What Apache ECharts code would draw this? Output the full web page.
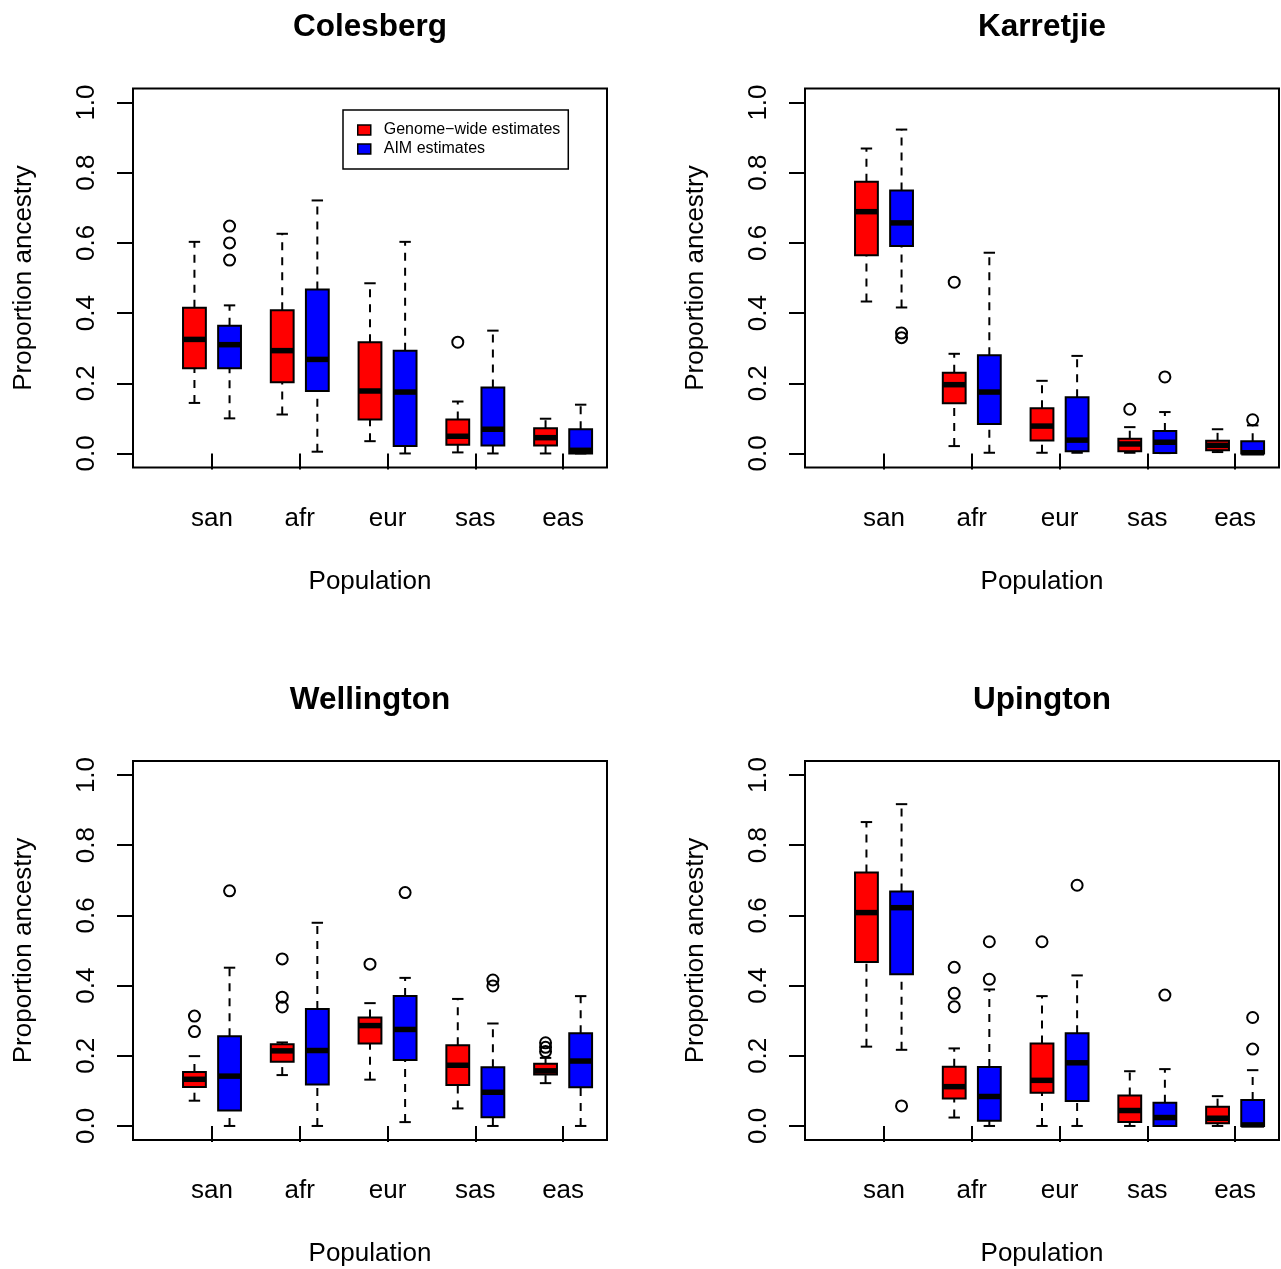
<!DOCTYPE html>
<html>
<head>
<meta charset="utf-8">
<script src="https://cdn.jsdelivr.net/npm/echarts@6/dist/echarts.min.js"></script>
<style>
  html, body { margin: 0; padding: 0; background: #fff; }
  #chart { width: 1281px; height: 1269px; }
</style>
</head>
<body>
<div id="chart"></div>
<script>
// Ancestry proportions per population, four sampling sites.
const categories = ['san', 'afr', 'eur', 'sas', 'eas'];
const yTicks = [0, 0.2, 0.4, 0.6, 0.8, 1.0];
const sites = ['Colesberg', 'Karretjie', 'Wellington', 'Upington'];

// Box statistics per population: [lower whisker, Q1, median, Q3, upper whisker]
const colesbergGenome = [
  [0.144, 0.243, 0.325, 0.415, 0.603],
  [0.111, 0.203, 0.293, 0.408, 0.626],
  [0.035, 0.097, 0.178, 0.317, 0.485],
  [0.003, 0.025, 0.049, 0.097, 0.148],
  [0.000, 0.023, 0.045, 0.072, 0.099]
];
const colesbergAim = [
  [0.100, 0.243, 0.310, 0.364, 0.422],
  [0.005, 0.178, 0.268, 0.467, 0.721],
  [0.000, 0.021, 0.175, 0.293, 0.603],
  [0.000, 0.023, 0.069, 0.188, 0.350],
  [0.000, 0.000, 0.009, 0.069, 0.139]
];
const karretjieGenome = [
  [0.433, 0.565, 0.689, 0.774, 0.869],
  [0.021, 0.143, 0.196, 0.230, 0.284],
  [0.002, 0.037, 0.078, 0.129, 0.207],
  [0.002, 0.006, 0.027, 0.042, 0.075],
  [0.004, 0.009, 0.023, 0.036, 0.069]
];
const karretjieAim = [
  [0.416, 0.591, 0.657, 0.749, 0.923],
  [0.002, 0.084, 0.175, 0.280, 0.572],
  [0.002, 0.006, 0.038, 0.160, 0.278],
  [0.001, 0.001, 0.032, 0.064, 0.118],
  [0.000, 0.000, 0.002, 0.035, 0.080]
];
const wellingtonGenome = [
  [0.072, 0.111, 0.133, 0.154, 0.199],
  [0.145, 0.183, 0.214, 0.233, 0.238],
  [0.132, 0.235, 0.286, 0.309, 0.350],
  [0.050, 0.117, 0.173, 0.230, 0.362],
  [0.122, 0.147, 0.157, 0.177, 0.194]
];
const wellingtonAim = [
  [0.000, 0.044, 0.142, 0.256, 0.451],
  [0.000, 0.118, 0.215, 0.333, 0.579],
  [0.011, 0.188, 0.275, 0.370, 0.422],
  [0.000, 0.025, 0.096, 0.167, 0.292],
  [0.000, 0.110, 0.185, 0.264, 0.370]
];
const upingtonGenome = [
  [0.226, 0.467, 0.608, 0.722, 0.866],
  [0.024, 0.078, 0.112, 0.169, 0.221],
  [0.000, 0.095, 0.130, 0.235, 0.370],
  [0.000, 0.011, 0.044, 0.087, 0.156],
  [0.000, 0.008, 0.022, 0.055, 0.085]
];
const upingtonAim = [
  [0.217, 0.432, 0.622, 0.668, 0.917],
  [0.000, 0.015, 0.084, 0.168, 0.389],
  [0.000, 0.071, 0.180, 0.264, 0.429],
  [0.000, 0.000, 0.024, 0.066, 0.162],
  [0.000, 0.000, 0.003, 0.074, 0.159]
];

// Outlying individuals per population
const colesbergGenomeOut = [[], [], [], [0.317], []];
const colesbergAimOut = [[0.551, 0.600, 0.648], [], [], [], []];
const karretjieGenomeOut = [[], [0.488], [], [0.126], []];
const karretjieAimOut = [[0.330, 0.343], [], [], [0.218], [0.096]];
const wellingtonGenomeOut = [[0.269, 0.313], [0.339, 0.367, 0.476], [0.461], [], [0.212, 0.224, 0.237]];
const wellingtonAimOut = [[0.670], [], [0.665], [0.399, 0.416], []];
const upingtonGenomeOut = [[], [0.340, 0.378, 0.452], [0.525], [], []];
const upingtonAimOut = [[0.057], [0.418, 0.525], [0.686], [0.373], [0.219, 0.309]];

const genomeStats = [colesbergGenome, karretjieGenome, wellingtonGenome, upingtonGenome];
const aimStats = [colesbergAim, karretjieAim, wellingtonAim, upingtonAim];
const genomeOut = [colesbergGenomeOut, karretjieGenomeOut, wellingtonGenomeOut, upingtonGenomeOut];
const aimOut = [colesbergAimOut, karretjieAimOut, wellingtonAimOut, upingtonAimOut];

const GENOME_NAME = 'Genome\u2212wide estimates';
const AIM_NAME = 'AIM estimates';
const GENOME_COLOR = '#ff0000';
const AIM_COLOR = '#0000ff';
const FONT = '"Liberation Sans", Arial, Helvetica, sans-serif';

const OFFSET = 0.2;     // box centre offset from the population position
const HALF_BOX = 0.13;  // half box width, axis units
const HALF_CAP = 0.065; // half staple width

function renderBox(params, api) {
  const x = api.value(0);
  const lo = api.value(1), q1 = api.value(2), med = api.value(3), q3 = api.value(4), hi = api.value(5);
  const color = api.visual('color');
  const p = (xx, yy) => api.coord([xx, yy]);
  const children = [];
  const whisker = (a, b) => {
    const s = p(x, a), e = p(x, b);
    return { type: 'line', shape: { x1: s[0], y1: s[1], x2: e[0], y2: e[1] },
             style: { stroke: '#000', lineWidth: 2, lineDash: [8, 7] } };
  };
  const hline = (v, hw, lw) => {
    const s = p(x - hw, v), e = p(x + hw, v);
    return { type: 'line', shape: { x1: s[0], y1: s[1], x2: e[0], y2: e[1] },
             style: { stroke: '#000', lineWidth: lw } };
  };
  if (hi > q3) children.push(whisker(q3, hi));
  if (lo < q1) children.push(whisker(lo, q1));
  children.push(hline(hi, HALF_CAP, 2));
  children.push(hline(lo, HALF_CAP, 2));
  const tl = p(x - HALF_BOX, q3), br = p(x + HALF_BOX, q1);
  children.push({ type: 'rect',
    shape: { x: tl[0], y: tl[1], width: br[0] - tl[0], height: br[1] - tl[1] },
    style: { fill: color, stroke: '#000', lineWidth: 2 } });
  children.push(hline(med, HALF_BOX, 5.5));
  return { type: 'group', children: children };
}

// panel placement: [left, top]
const panelPos = [[133, 88.5], [805, 88.5], [133, 761], [805, 761]];
const PLOT_W = 474, PLOT_H = 379;

const grids = [], xAxes = [], yAxes = [], titles = [], series = [];
const catValues = categories.map((c, i) => i + 1);

panelPos.forEach((pos, k) => {
  grids.push({ left: pos[0], top: pos[1], width: PLOT_W, height: PLOT_H,
    show: true, borderColor: '#000', borderWidth: 2, backgroundColor: 'transparent' });
  titles.push({ text: sites[k], left: pos[0] + PLOT_W / 2, top: pos[1] - 77, textAlign: 'center',
    padding: 0,
    textStyle: { fontFamily: FONT, fontSize: 31.5, fontWeight: 'bold', color: '#000' } });
  xAxes.push({ type: 'value', gridIndex: k, min: 0.1, max: 5.5,
    name: 'Population', nameLocation: 'middle', nameGap: 101,
    nameTextStyle: { fontFamily: FONT, fontSize: 26, color: '#000' },
    axisLine: { show: false }, splitLine: { show: false },
    axisTick: { show: true, customValues: catValues, length: 16, inside: false,
      lineStyle: { color: '#000', width: 2 } },
    axisLabel: { show: true, customValues: catValues, margin: 38,
      fontFamily: FONT, fontSize: 26, color: '#000',
      formatter: v => categories[Math.round(v) - 1] } });
  yAxes.push({ type: 'value', gridIndex: k, min: -0.04, max: 1.04,
    name: 'Proportion ancestry', nameLocation: 'middle', nameGap: 96, nameRotate: 90,
    nameTextStyle: { fontFamily: FONT, fontSize: 26, color: '#000' },
    axisLine: { show: false }, splitLine: { show: false },
    axisTick: { show: true, customValues: yTicks, length: 16, inside: false,
      lineStyle: { color: '#000', width: 2 } },
    axisLabel: { show: true, customValues: yTicks, margin: 33, rotate: 90,
      fontFamily: FONT, fontSize: 26, color: '#000',
      formatter: v => v.toFixed(1) } });

  const boxSeries = (name, color, stats, sign) => ({
    type: 'custom', name: name, xAxisIndex: k, yAxisIndex: k,
    itemStyle: { color: color },
    renderItem: renderBox,
    encode: { x: 0, y: [1, 2, 3, 4, 5] },
    data: stats.map((s, i) => [i + 1 + sign * OFFSET].concat(s)),
    z: 2
  });
  series.push(boxSeries(GENOME_NAME, GENOME_COLOR, genomeStats[k], -1));
  series.push(boxSeries(AIM_NAME, AIM_COLOR, aimStats[k], 1));

  const outPoints = (lists, sign) => {
    const pts = [];
    lists.forEach((vals, i) => vals.forEach(v => pts.push([i + 1 + sign * OFFSET, v])));
    return pts;
  };
  [[genomeOut[k], -1, GENOME_NAME], [aimOut[k], 1, AIM_NAME]].forEach(([lists, sign, nm]) => {
    series.push({ type: 'scatter', name: nm, xAxisIndex: k, yAxisIndex: k,
      symbol: 'circle', symbolSize: 11,
      itemStyle: { color: 'rgba(0,0,0,0)', borderColor: '#000', borderWidth: 2, opacity: 1 },
      data: outPoints(lists, sign), z: 3, silent: true });
  });
});

const chart = echarts.init(document.getElementById('chart'), null, { renderer: 'canvas' });
chart.setOption({
  animation: false,
  backgroundColor: '#fff',
  title: titles,
  grid: grids,
  xAxis: xAxes,
  yAxis: yAxes,
  legend: {
    orient: 'vertical', left: 343, top: 110,
    padding: [12, 8, 12, 14], itemGap: 3,
    borderColor: '#000', borderWidth: 1.5, borderRadius: 0, backgroundColor: '#fff',
    icon: 'rect', itemWidth: 13, itemHeight: 10,
    selectedMode: false,
    textStyle: { fontFamily: FONT, fontSize: 16, color: '#000', padding: [0, 0, 0, 8] },
    data: [
      { name: GENOME_NAME, itemStyle: { color: GENOME_COLOR, borderColor: '#000', borderWidth: 1.5 } },
      { name: AIM_NAME, itemStyle: { color: AIM_COLOR, borderColor: '#000', borderWidth: 1.5 } }
    ]
  },
  series: series
});
</script>
</body>
</html>
